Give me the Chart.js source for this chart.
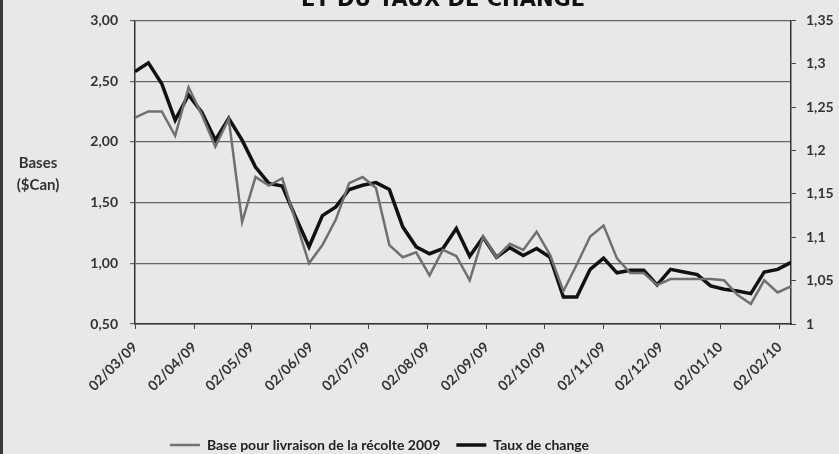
<!DOCTYPE html>
<html>
<head>
<meta charset="utf-8">
<script src="https://cdn.jsdelivr.net/npm/chart.js@4.4.1/dist/chart.umd.min.js"></script>
<style>
    html, body { margin: 0; padding: 0; background: #e8e8e8; overflow: hidden; }
    #wrap { position: relative; width: 839px; height: 454px; }
</style>
</head>
<body>
<div id="wrap"><canvas id="chart" width="839" height="454"></canvas></div>
<script>
// Données hebdomadaires, à partir du 02/03/09
const startDate = '2009-03-02';
const weekStep = 7;

const monthLabels = ['02/03/09', '02/04/09', '02/05/09', '02/06/09', '02/07/09', '02/08/09',
    '02/09/09', '02/10/09', '02/11/09', '02/12/09', '02/01/10', '02/02/10'];

const baseValues = [
    2.20, 2.25, 2.25, 2.05, 2.45, 2.22, 1.96, 2.19, 1.34, 1.71,
    1.64, 1.70, 1.35, 1.00, 1.15, 1.36, 1.66, 1.71, 1.62, 1.15,
    1.05, 1.09, 0.90, 1.11, 1.06, 0.86, 1.22, 1.05, 1.16, 1.11,
    1.26, 1.07, 0.77, 0.99, 1.22, 1.31, 1.04, 0.92, 0.92, 0.82,
    0.87, 0.87, 0.87, 0.87, 0.86, 0.74, 0.665, 0.86, 0.76, 0.81
];

const rateValues = [
    1.291, 1.301, 1.277, 1.235, 1.264, 1.244, 1.212, 1.237, 1.212, 1.181,
    1.162, 1.159, 1.123, 1.089, 1.125, 1.135, 1.155, 1.160, 1.163, 1.155,
    1.112, 1.089, 1.081, 1.087, 1.110, 1.078, 1.100, 1.077, 1.088, 1.079,
    1.087, 1.077, 1.031, 1.031, 1.063, 1.076, 1.059, 1.062, 1.062, 1.045,
    1.063, 1.060, 1.057, 1.044, 1.040, 1.038, 1.035, 1.060, 1.063, 1.071
];

const titleText = 'ET DU TAUX DE CHANGE';
const axisCaption = ['Bases', '($Can)'];

const DAY = 24 * 60 * 60 * 1000;
const start = Date.parse(startDate);

function labelToDays(label) {
    const [d, m, y] = label.split('/').map(Number);
    return Math.round((Date.UTC(2000 + y, m - 1, d) - start) / DAY);
}

function toComma(v, digits) {
    return (digits ? v.toFixed(digits) : String(+v.toFixed(2))).replace('.', ',');
}

const monthDays = monthLabels.map(labelToDays);
const weekDays = baseValues.map((_, i) => i * weekStep);
const lastDay = weekDays[weekDays.length - 1];

const boldFont = { family: 'Lato', size: 14, weight: 'bold' };
const textColor = '#333';

const decorations = {
    id: 'decorations',
    afterLayout(chart) {
        // la légende est décalée vers la gauche dans l'original
        chart.legend.right -= 80;
    },
    beforeDraw(chart) {
        const ctx = chart.ctx;
        ctx.save();
        ctx.fillStyle = '#e8e8e8';
        ctx.fillRect(0, 0, chart.width, chart.height);
        ctx.fillStyle = '#3a3a3a';
        ctx.fillRect(0, 0, 3, chart.height);
        ctx.restore();
    },
    afterDraw(chart) {
        const ctx = chart.ctx;
        const area = chart.chartArea;
        ctx.save();
        // titre coupé en haut de l'image
        ctx.fillStyle = '#111';
        ctx.font = 'bold 21px "DejaVu Sans"';
        ctx.textAlign = 'center';
        ctx.textBaseline = 'alphabetic';
        ctx.fillText(titleText, 443, 6);
        // libellé de l'axe de gauche
        ctx.fillStyle = textColor;
        ctx.font = 'bold 15px Lato';
        ctx.textBaseline = 'middle';
        ctx.fillText(axisCaption[0], 38, area.top + 143);
        ctx.fillText(axisCaption[1], 38, area.top + 165);
        ctx.restore();
    }
};

new Chart(document.getElementById('chart'), {
    type: 'line',
    data: {
        datasets: [{
            label: 'Base pour livraison de la récolte 2009',
            data: baseValues.map((v, i) => ({ x: weekDays[i], y: v })),
            yAxisID: 'y',
            borderColor: '#707070',
            borderWidth: 2.5,
            pointRadius: 0,
            pointStyle: 'line',
            tension: 0
        }, {
            label: 'Taux de change',
            data: rateValues.map((v, i) => ({ x: weekDays[i], y: v })),
            yAxisID: 'y1',
            borderColor: '#111',
            borderWidth: 3.5,
            pointRadius: 0,
            pointStyle: 'line',
            tension: 0
        }]
    },
    options: {
        responsive: false,
        animation: false,
        layout: { padding: { top: 20, left: 0, right: 0, bottom: 0 } },
        plugins: {
            legend: {
                position: 'bottom',
                maxHeight: 32,
                labels: {
                    usePointStyle: true,
                    pointStyleWidth: 30,
                    padding: 16,
                    color: '#222',
                    font: boldFont
                }
            },
            tooltip: { enabled: false }
        },
        scales: {
            x: {
                type: 'linear',
                min: 0,
                max: lastDay,
                afterBuildTicks: scale => {
                    scale.ticks = monthDays.map(v => ({ value: v }));
                },
                afterFit: scale => { scale.height = 98; },
                ticks: {
                    autoSkip: false,
                    minRotation: 45,
                    maxRotation: 45,
                    padding: 10,
                    color: textColor,
                    font: boldFont,
                    callback: (value) => monthLabels[monthDays.indexOf(value)] || ''
                },
                grid: { drawOnChartArea: false, tickLength: 5, color: '#444' },
                border: { color: '#333', width: 1.5 }
            },
            y: {
                position: 'left',
                min: 0.5,
                max: 3,
                afterFit: scale => { scale.width = 135; },
                ticks: {
                    stepSize: 0.5,
                    padding: 12,
                    color: textColor,
                    font: boldFont,
                    callback: v => toComma(v, 2)
                },
                grid: { color: '#666', lineWidth: 1.2, tickLength: 5 },
                border: { color: '#333', width: 1.5 }
            },
            y1: {
                position: 'right',
                min: 1,
                max: 1.35,
                afterFit: scale => { scale.width = 48; },
                ticks: {
                    stepSize: 0.05,
                    padding: 10,
                    color: textColor,
                    font: boldFont,
                    callback: v => toComma(v)
                },
                grid: { drawOnChartArea: false, tickLength: 5, color: '#444' },
                border: { color: '#333', width: 1.5 }
            }
        }
    },
    plugins: [decorations]
});
</script>
</body>
</html>
